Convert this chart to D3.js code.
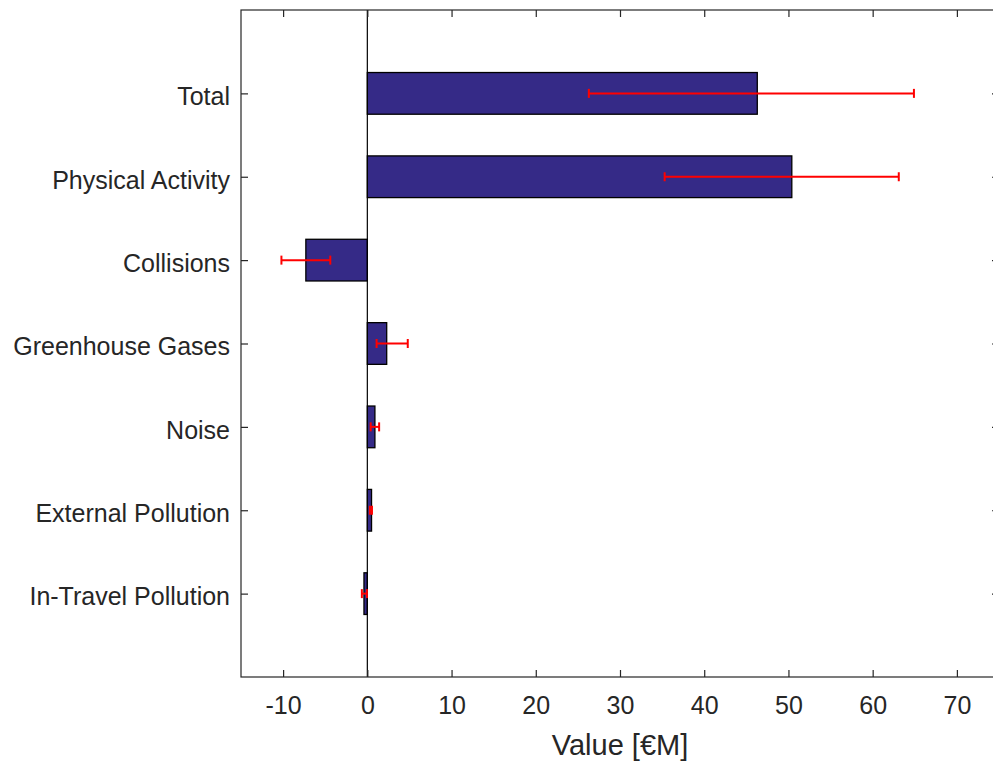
<!DOCTYPE html>
<html>
<head>
<meta charset="utf-8">
<script src="https://cdn.jsdelivr.net/npm/d3@7"></script>
<style>
  html, body { margin: 0; padding: 0; background: #fff; }
  svg { display: block; }
  text { font-family: "Liberation Sans", Arial, Helvetica, sans-serif; fill: #262626; }
</style>
</head>
<body>
<svg id="chart" width="993" height="765"></svg>
<script>
// Health and environmental effects, in millions of euros
const categories = ["Total", "Physical Activity", "Collisions", "Greenhouse Gases", "Noise", "External Pollution", "In-Travel Pollution"];
const values     = [46.3, 50.4, -7.3, 2.3, 0.9, 0.5, -0.4];
const lowerBound = [26.3, 35.3, -10.2, 1.1, 0.4, 0.3, -0.65];
const upperBound = [64.9, 63.1, -4.4, 4.8, 1.4, 0.55, -0.05];
const xTicks     = [-10, 0, 10, 20, 30, 40, 50, 60, 70];
const xLabel     = "Value [€M]";

const rows = categories.map((name, i) => ({
  name, value: values[i], lo: lowerBound[i], hi: upperBound[i], pos: i + 1
}));

const svg = d3.select("#chart");
const plotLeft = 241, plotRight = 999, plotTop = 10, plotBottom = 677;
const axisColor = "#262626";

const x = d3.scaleLinear().domain([-15, 75]).range([plotLeft, plotRight]);
const y = d3.scaleLinear().domain([0, categories.length + 1]).range([plotTop, plotBottom]);
const band = (y(1) - y(0)) * 0.5;

// bars
svg.append("g").selectAll("rect").data(rows).join("rect")
  .attr("x", d => x(Math.min(0, d.value)))
  .attr("y", d => y(d.pos) - band / 2)
  .attr("width", d => Math.abs(x(d.value) - x(0)))
  .attr("height", band)
  .attr("fill", "#352a87")
  .attr("stroke", "#000")
  .attr("stroke-width", 1.3);

// baseline at zero
svg.append("line")
  .attr("x1", x(0)).attr("x2", x(0))
  .attr("y1", plotTop).attr("y2", plotBottom)
  .attr("stroke", "#000").attr("stroke-width", 1.2);

// error bars
const err = svg.append("g").attr("stroke", "#ff0000").attr("stroke-width", 2).attr("fill", "none");
const cap = 4.5;
rows.forEach(d => {
  err.append("line").attr("x1", x(d.lo)).attr("x2", x(d.hi)).attr("y1", y(d.pos)).attr("y2", y(d.pos));
  err.append("line").attr("x1", x(d.lo)).attr("x2", x(d.lo)).attr("y1", y(d.pos) - cap).attr("y2", y(d.pos) + cap);
  err.append("line").attr("x1", x(d.hi)).attr("x2", x(d.hi)).attr("y1", y(d.pos) - cap).attr("y2", y(d.pos) + cap);
});

// axes box with inward ticks
const tickLen = 7;
const bottomAxis = d3.axisBottom(x).tickValues(xTicks).tickFormat(v => String(v))
  .tickSizeInner(-tickLen).tickSizeOuter(0).tickPadding(19);
const topAxis = d3.axisTop(x).tickValues(xTicks).tickSizeInner(-tickLen).tickSizeOuter(0).tickFormat("");
const leftAxis = d3.axisLeft(y).tickValues(rows.map(d => d.pos))
  .tickFormat(p => categories[p - 1]).tickSizeInner(-tickLen).tickSizeOuter(0).tickPadding(11);
const rightAxis = d3.axisRight(y).tickValues(rows.map(d => d.pos)).tickSizeInner(-tickLen).tickSizeOuter(0).tickFormat("");

function styleAxis(g) {
  g.select(".domain").remove();
  g.selectAll(".tick line").attr("stroke", axisColor).attr("stroke-width", 1.2);
  g.selectAll(".tick text").attr("fill", axisColor).style("font-size", "25px")
    .style("font-family", "'Liberation Sans', Arial, sans-serif");
}

svg.append("g").attr("transform", `translate(0,${plotBottom})`).call(bottomAxis).call(styleAxis);
svg.append("g").attr("transform", `translate(0,${plotTop})`).call(topAxis).call(styleAxis);
svg.append("g").attr("transform", `translate(${plotLeft},0)`).call(leftAxis).call(styleAxis)
  .selectAll(".tick text").attr("dy", "0.45em");
svg.append("g").attr("transform", `translate(${plotRight},0)`).call(rightAxis).call(styleAxis);

// axes box outline
svg.append("rect")
  .attr("x", plotLeft).attr("y", plotTop).attr("width", plotRight - plotLeft).attr("height", plotBottom - plotTop)
  .attr("fill", "none").attr("stroke", axisColor).attr("stroke-width", 1.2);

// x axis title
svg.append("text")
  .attr("x", (x(-15) + x(75)) / 2 - 0)
  .attr("y", 755)
  .attr("text-anchor", "middle")
  .style("font-size", "29px")
  .text(xLabel);
</script>
</body>
</html>
